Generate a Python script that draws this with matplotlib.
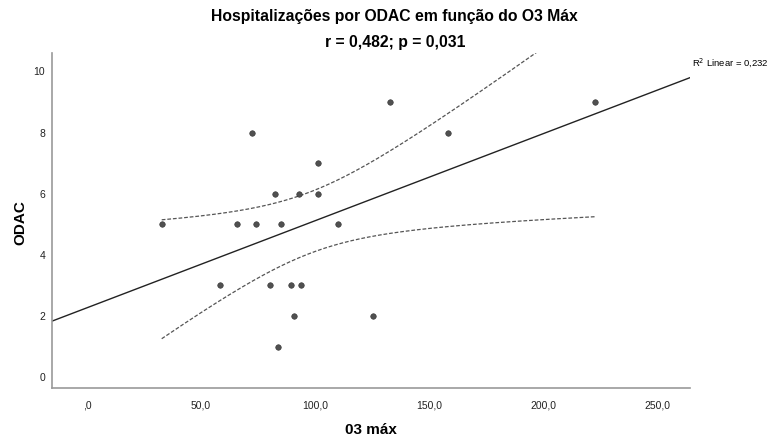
import matplotlib
matplotlib.use('Agg')
import matplotlib.pyplot as plt
import numpy as np

plt.rcParams['font.family'] = ['Liberation Sans', 'DejaVu Sans']

# O3 max vs hospitalisations (ODAC)
o3_max = [32.8, 72.3, 132.9, 101.4, 82.3, 93.1, 101.1, 66.0, 74.1, 85.2,
          110.0, 58.3, 80.4, 89.4, 93.7, 90.6, 125.2, 83.9, 222.9, 158.4]
odac = [5, 8, 9, 7, 6, 6, 6, 5, 5, 5,
        5, 3, 3, 3, 3, 2, 2, 1, 9, 8]

x_ticks = [0, 50, 100, 150, 200, 250]
x_tick_labels = [',0', '50,0', '100,0', '150,0', '200,0', '250,0']
y_ticks = [0, 2, 4, 6, 8, 10]

title = 'Hospitalizações por ODAC em função do O3 Máx'
subtitle = 'r = 0,482; p = 0,031'

x = np.array(o3_max)
y = np.array(odac)
n = len(x)

# linear fit and 95% confidence band of the mean
slope, intercept = np.polyfit(x, y, 1)
resid = y - (slope * x + intercept)
s = np.sqrt(np.sum(resid ** 2) / (n - 2))
t_crit = 2.101  # t(0.975, df=18)
r2 = 1 - np.sum(resid ** 2) / np.sum((y - y.mean()) ** 2)

fig = plt.figure(figsize=(7.71, 4.43), dpi=100)
ax = fig.add_axes([0.0674, 0.124, 0.828, 0.756])

xlim = (-15.3, 264.5)
ylim = (-0.36, 10.6)

xs = np.linspace(x.min(), x.max(), 200)
se = s * np.sqrt(1 / n + (xs - x.mean()) ** 2 / np.sum((x - x.mean()) ** 2))
fit = slope * xs + intercept
ax.plot(xs, fit + t_crit * se, color='#555555', lw=0.9, ls=(0, (3, 1.5)))
ax.plot(xs, fit - t_crit * se, color='#555555', lw=0.9, ls=(0, (3, 1.5)))

xl = np.array(xlim)
ax.plot(xl, slope * xl + intercept, color='#222222', lw=1.0)

ax.scatter(x, y, s=16, color='#505050', edgecolors='#333333', linewidths=0.4, zorder=3)

ax.set_xlim(*xlim)
ax.set_ylim(*ylim)
ax.set_xticks(x_ticks)
ax.set_xticklabels(x_tick_labels)
ax.set_yticks(y_ticks)
ax.tick_params(length=0, labelsize=7.5, colors='#222222')
ax.tick_params(axis='x', pad=9)
ax.tick_params(axis='y', pad=5)

for side in ('top', 'right'):
    ax.spines[side].set_visible(False)
for side in ('left', 'bottom'):
    ax.spines[side].set_color('#999999')
    ax.spines[side].set_linewidth(1.2)

# axis titles placed in figure coordinates
fig.text(371 / 771, 1 - 430 / 443, '03 máx', ha='center', va='center',
         fontsize=11, fontweight='bold')
fig.text(20 / 771, 1 - 223 / 443, 'ODAC', ha='center', va='center',
         fontsize=11, fontweight='bold', rotation=90)

fig.text(0.512, 0.962, title, ha='center', va='center', fontsize=11.3, fontweight='bold')
fig.text(0.512, 0.903, subtitle, ha='center', va='center', fontsize=11.3, fontweight='bold')

r2_txt = f'{r2:.3f}'.replace('.', ',')
fig.text(0.897, 0.858, r'R$^2$ Linear = ' + r2_txt, ha='left', va='center', fontsize=6.8)

fig.savefig('out.png', dpi=100)
